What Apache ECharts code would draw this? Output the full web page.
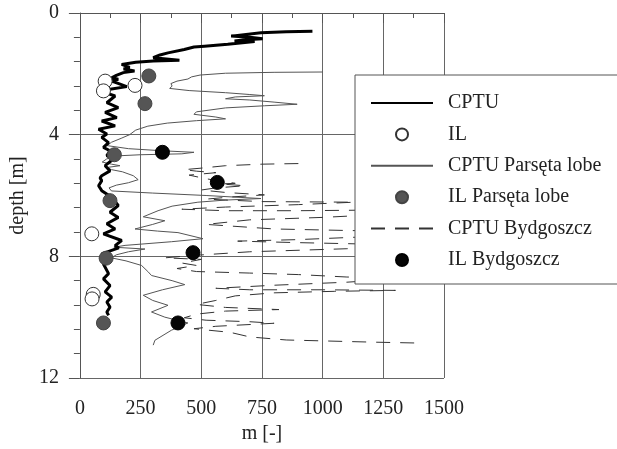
<!DOCTYPE html>
<html>
<head>
<meta charset="utf-8">
<script src="https://cdn.jsdelivr.net/npm/echarts@6/dist/echarts.min.js"></script>
<style>
html,body{margin:0;padding:0;background:#fff;}
#chart{width:617px;height:449px;}
</style>
</head>
<body>
<div id="chart"></div>
<script>
// [m, depth]
var cptu = [[958,0.60],[850,0.62],[746,0.65],[623,0.76],[700,0.80],[753,0.85],[680,0.88],[637,0.92],[720,0.94],[609,1.03],[513,1.09],[470,1.12],[430,1.2],[363,1.31],[330,1.38],[302,1.47],[410,1.55],[302,1.58],[230,1.62],[172,1.69],[205,1.79],[180,1.84],[225,1.91],[179,1.96],[150,2.05],[131,2.13],[158,2.18],[131,2.24],[160,2.32],[193,2.42],[124,2.51],[104,2.62],[145,2.73],[111,2.95],[158,3.11],[104,3.27],[152,3.44],[90,3.55],[145,3.71],[77,3.82],[111,3.98],[90,4.09],[118,4.26],[97,4.42],[124,4.53],[111,4.69],[138,4.80],[104,5.02],[124,5.19],[90,5.35],[83,5.42],[90,5.51],[77,5.68],[90,5.84],[131,6.06],[158,6.33],[124,6.55],[158,6.72],[111,6.93],[145,7.10],[97,7.26],[172,7.48],[145,7.65],[160,7.72],[90,7.92],[124,8.08],[97,8.25],[118,8.57],[97,8.74],[124,8.96],[104,9.17],[131,9.34],[111,9.50],[124,9.67],[111,9.83],[118,9.94]];
var ilPoints = [[104,2.24],[227,2.38],[97,2.56],[49,7.26],[55,9.25],[50,9.4]];
var parseta = [[1000,1.94],[800,1.95],[600,1.98],[495,2.04],[460,2.1],[445,2.17],[400,2.24],[375,2.32],[380,2.4],[370,2.48],[450,2.55],[600,2.62],[700,2.68],[760,2.72],[640,2.76],[600,2.82],[700,2.86],[800,2.93],[895,3.0],[760,3.05],[600,3.12],[480,3.25],[470,3.33],[560,3.42],[600,3.48],[480,3.54],[360,3.62],[280,3.72],[230,3.85],[205,4.0],[170,4.12],[130,4.25],[112,4.36],[200,4.46],[340,4.53],[470,4.58],[420,4.63],[250,4.66],[145,4.7],[110,4.8],[92,4.9],[130,4.97],[165,5.02],[110,5.08],[130,5.15],[175,5.22],[220,5.35],[240,5.48],[200,5.58],[150,5.66],[120,5.75],[130,5.85],[300,5.92],[520,6.0],[746,6.1],[600,6.15],[486,6.22],[380,6.35],[322,6.5],[261,6.7],[350,6.83],[300,6.95],[227,7.1],[320,7.17],[404,7.22],[507,7.42],[377,7.52],[186,7.64],[140,7.7],[268,7.76],[200,7.85],[150,7.95],[130,8.05],[190,8.15],[254,8.3],[280,8.5],[295,8.63],[380,8.8],[432,8.93],[340,9.1],[261,9.28],[300,9.45],[363,9.61],[295,9.83],[350,10.0],[445,10.19],[377,10.43],[309,10.76],[302,10.92]];
var ilParseta = [[284,2.07],[268,2.98],[142,4.66],[124,6.17],[108,8.06],[97,10.19]];
var bydgoszcz = [[900,4.95],[750,4.97],[600,5.02],[500,5.1],[430,5.15],[480,5.2],[560,5.25],[450,5.33],[520,5.45],[640,5.6],[580,5.62],[680,5.68],[560,5.75],[500,5.82],[600,5.9],[760,5.98],[620,6.05],[520,6.12],[750,6.2],[1130,6.22],[900,6.3],[600,6.38],[420,6.45],[600,6.5],[900,6.5],[1200,6.48],[1450,6.5],[1300,6.6],[1000,6.72],[700,6.8],[520,6.95],[800,7.1],[1100,7.15],[1450,7.2],[1200,7.35],[900,7.45],[650,7.5],[900,7.55],[1200,7.6],[1450,7.62],[1100,7.75],[700,7.85],[450,7.98],[350,8.05],[500,8.1],[420,8.22],[480,8.3],[400,8.4],[480,8.5],[700,8.55],[900,8.6],[1100,8.68],[1350,8.72],[1100,8.85],[800,8.95],[560,9.05],[700,9.1],[1000,9.1],[1300,9.12],[1050,9.15],[800,9.2],[640,9.3],[560,9.45],[480,9.58],[600,9.68],[820,9.75],[600,9.8],[480,9.9],[430,10.02],[520,10.1],[700,10.15],[800,10.2],[560,10.3],[470,10.38],[620,10.5],[700,10.65],[850,10.75],[1000,10.78],[1200,10.82],[1390,10.85]];
var ilBydgoszcz = [[340,4.58],[566,5.57],[466,7.88],[404,10.19]];
var seriesNames = ['CPTU','IL','CPTU Parsęta lobe','IL Parsęta lobe','CPTU Bydgoszcz','IL Bydgoszcz'];

var FONT = 'Liberation Serif';
var hidden = {color:'rgba(0,0,0,0)', borderColor:'rgba(0,0,0,0)', borderWidth:0};
var chart = echarts.init(document.getElementById('chart'), null, {renderer:'canvas'});
chart.setOption({
  animation:false,
  backgroundColor:'#fff',
  textStyle:{fontFamily:FONT},
  grid:{left:78, top:13, right:173, bottom:69, containLabel:false},
  xAxis:{
    type:'value', min:0, max:1500, interval:250,
    name:'m [-]', nameLocation:'middle', nameGap:46,
    nameTextStyle:{fontFamily:FONT, fontSize:20, color:'#222'},
    axisLine:{show:true, lineStyle:{color:'#555', width:1}},
    axisTick:{show:true, inside:false, length:10, lineStyle:{color:'#555'}},
    minorTick:{show:true, splitNumber:2, length:5, lineStyle:{color:'#555'}},
    axisLabel:{fontFamily:FONT, fontSize:20, color:'#222', margin:21, formatter:function(v){return String(v);}},
    splitLine:{show:true, lineStyle:{color:'#666', width:1}}
  },
  yAxis:{
    type:'value', min:0, max:12, interval:4, inverse:true,
    name:'depth [m]', nameLocation:'middle', nameGap:46, nameRotate:90,
    nameTextStyle:{fontFamily:FONT, fontSize:20, color:'#222'},
    axisLine:{show:true, lineStyle:{color:'#555', width:1}},
    axisTick:{show:true, inside:false, length:11, lineStyle:{color:'#555'}},
    minorTick:{show:true, splitNumber:5, length:6, lineStyle:{color:'#555'}},
    axisLabel:{fontFamily:FONT, fontSize:20, color:'#222', margin:21},
    splitLine:{show:true, lineStyle:{color:'#666', width:1}}
  },
  legend:{
    orient:'vertical', left:355, top:75,
    data:[
      {name:seriesNames[0], itemStyle:hidden},
      {name:seriesNames[1]},
      {name:seriesNames[2], itemStyle:hidden},
      {name:seriesNames[3]},
      {name:seriesNames[4], itemStyle:hidden},
      {name:seriesNames[5]}
    ],
    backgroundColor:'#fff', borderColor:'#555', borderWidth:1,
    padding:[18,40,14,15],
    itemWidth:62, itemHeight:12, itemGap:11.4,
    textStyle:{fontFamily:FONT, fontSize:20, lineHeight:20, color:'#222', padding:[0,0,0,10]},
    z:10
  },
  series:[
    {name:seriesNames[2], type:'line', data:parseta, showSymbol:false, symbol:'none', z:2,
      lineStyle:{color:'#555', width:1}, itemStyle:{color:'#555'}},
    {name:seriesNames[4], type:'line', data:bydgoszcz, showSymbol:false, symbol:'none', z:2,
      lineStyle:{color:'#333', width:1, type:[14,10]}, itemStyle:{color:'#333'}},
    {name:seriesNames[0], type:'line', data:cptu, showSymbol:false, symbol:'none', z:3,
      lineStyle:{color:'#000', width:3}, itemStyle:{color:'#000'}},
    {name:seriesNames[1], type:'scatter', data:ilPoints, symbol:'circle', symbolSize:14, z:4,
      itemStyle:{color:'#fff', borderColor:'#333', borderWidth:1, opacity:1}},
    {name:seriesNames[3], type:'scatter', data:ilParseta, symbol:'circle', symbolSize:14, z:4,
      itemStyle:{color:'#555', borderColor:'#444', borderWidth:1, opacity:1}},
    {name:seriesNames[5], type:'scatter', data:ilBydgoszcz, symbol:'circle', symbolSize:14, z:4,
      itemStyle:{color:'#050505', borderColor:'#000', borderWidth:1, opacity:1}}
  ]
});
</script>
</body>
</html>
